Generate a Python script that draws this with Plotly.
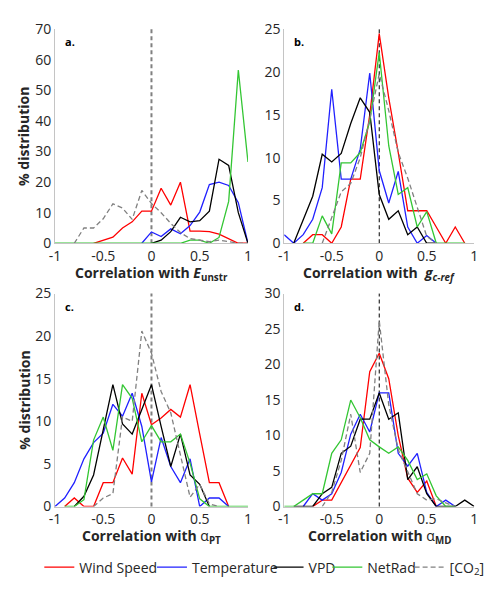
import plotly.graph_objects as go

# ---------------- data ----------------
x_bins = [-1.0, -0.9, -0.8, -0.7, -0.6, -0.5, -0.4, -0.3, -0.2, -0.1, 0.0,
          0.1, 0.2, 0.3, 0.4, 0.5, 0.6, 0.7, 0.8, 0.9, 1.0]

series_names = ["Wind Speed", "Temperature", "VPD", "NetRad", "[CO<sub>2</sub>]"]

# panel a: correlation with E_unstr
a_wind = [None, None, None, None, 0, 1, 2, 5, 7, 10.5, 10.5, 18, 12.5, 20, 4, 4, 3.8, 3, 1.5, 0, 0]
a_temp = [None, None, None, None, None, None, None, None, None, 0, 3.7, 2.2, 4.7, 3.1, 5.8, 10.2, 19.2, 20, 18.9, 13.3, 0]
a_vpd = [None, None, None, None, None, None, None, None, None, None, 0, 1, 3.8, 8.5, 7, 7.4, 10.5, 27.5, 25.5, 10, 0]
a_netrad = [0, 0, 0, 0, 0, 0, 0, 0, 0, 0, 0, 0, 0, 0, 1, 1, 0, 1.9, 13.7, 56.7, 26.6]
a_co2 = [None, None, 0, 5, 5, 8, 12.9, 11.5, 7.8, 17.3, 13, 10, 6.5, 3.5, 1.5, 1, 0.5, 1, 0.5, 0, 0]

# panel b: correlation with g_c-ref
b_wind = [None, None, 0, 1, 1, 0, 1.9, 7.5, 7.5, 15, 24.5, 17, 10.6, 3.8, 3.8, 3.8, 1.9, 0, 1.9, 0, None]
b_temp = [1, 0, 1, 2.8, 6.5, 18, 7.5, 7.5, 11, 19.9, 8.5, 4.7, 8.4, 1.9, 0, 0.9, 0, None, None, None, None]
b_vpd = [None, 0, 2.8, 5.5, 10.4, 9.5, 10.5, 14, 17, 15.3, 5.7, 2.8, 3.8, 1, 1.9, 0, 0, None, None, None, None]
b_netrad = [None, None, 0, 0, 3.2, 1.1, 9.4, 9.4, 10.6, 14.2, 22.3, 11.4, 5.7, 6.5, 1.9, 3.7, 0, 0, 0, 0, None]
b_co2 = [None, None, None, None, 0, 3, 6, 7, 10, 14.5, 19.8, 15.5, 10.6, 7.6, 4.2, 0.8, 0, None, None, None, None]

# panel c: correlation with alpha_PT
c_wind = [None, 0, 1, 0, 0, 2.8, 2.8, 5.7, 3.8, 13.3, 9.6, 10.4, 11.4, 10.5, 14.3, 8.5, 2.8, 2.8, 0, None, None]
c_temp = [0, 1, 2.8, 5.6, 7.5, 8.6, 12, 10.6, 13.3, 9.4, 2.9, 8.1, 4.7, 2.8, 5.6, 0, 1, 1, 0, None, None]
c_vpd = [None, None, 0, 1.2, 3.7, 8.9, 14.3, 9.7, 8.5, 11.4, 14.3, 9.4, 4.7, 8.5, 3.7, 2.6, 0, None, None, None, None]
c_netrad = [None, 0, 0, 0.8, 7.8, 10.5, 6.6, 14.3, 12.7, 7.6, 9.5, 7.6, 7.6, 8.5, 5.1, 0.9, 0, 0, 0, 0, 0]
c_co2 = [None, None, None, None, 0, 1, 1.5, 10.5, 10, 20.6, 18, 13.5, 11, 6, 1.1, 2.6, 0.3, 0, None, None, None]

# panel d: correlation with alpha_MD
d_wind = [None, None, None, 0, 0.9, 0.9, 3.3, 5.9, 8.3, 19, 21.6, 18, 10, 4, 2, 3.6, 0, None, None, None, None]
d_temp = [None, None, 0, 1.8, 0.9, 1.8, 4.8, 10.2, 13, 10.5, 16, 16, 7.5, 5.7, 7.5, 2, 0, 0.9, 0, None, None]
d_vpd = [None, 0, 0, 0, 1.8, 2.7, 7.5, 8.5, 12.3, 12.3, 16, 12.3, 13.2, 3.8, 5.6, 1.8, 0, 0, 0, 0.9, 0]
d_netrad = [0, 0, 0.9, 1.8, 1.8, 7.5, 9.4, 15, 12.5, 9.4, 8.4, 7.5, 8.4, 6.5, 3.8, 4.6, 1.5, 0, 0, None, None]
d_co2 = [None, None, None, None, 0, 2, 6.5, 13, 4.8, 7.5, 26.2, 14.3, 8, 4.8, 1.8, 0.9, 1.1, 0.5, 0, None, None]

x_tickvals = [-1, -0.5, 0, 0.5, 1]
x_ticktext = ["-1", "-0.5", "0", "0.5", "1"]
y_ranges = [[0, 70], [0, 25], [0, 25], [0, 30]]
y_dticks = [10, 5, 5, 5]
panel_labels = ["a.", "b.", "c.", "d."]
x_titles = [
    "<b>Correlation with <i>E</i><sub>unstr</sub></b>",
    "<b>Correlation with  <i>g</i><sub><i>c-ref</i></sub></b>",
    "<b>Correlation with </b>α<sub><b>PT</b></sub>",
    "<b>Correlation with </b>α<sub><b>MD</b></sub>",
]

# ---------------- styles ----------------
W, H = 491, 591
FONT = "Open Sans"
colors = ["#ff0000", "#2020ff", "#000000", "#33c633", "#808080"]
dashes = ["solid", "solid", "solid", "solid", "5px,3px"]
# plot areas in pixels: (left, right, top, bottom)
boxes = [(50, 247, 20, 241), (284, 478, 20, 241), (50, 247, 293, 513), (284, 478, 293, 513)]
vline_styles = [("#808080", 2, "4px,3px"), ("#000000", 1, "4px,3px"),
                ("#808080", 2, "4px,3px"), ("#000000", 1, "4px,3px")]

panels = [
    [a_wind, a_temp, a_vpd, a_netrad, a_co2],
    [b_wind, b_temp, b_vpd, b_netrad, b_co2],
    [c_wind, c_temp, c_vpd, c_netrad, c_co2],
    [d_wind, d_temp, d_vpd, d_netrad, d_co2],
]
legend_ids = ["legend", "legend2", "legend3", "legend4", "legend5"]
legend_x = [34, 149, 268, 328, 412]

fig = go.Figure()
for p, data in enumerate(panels):
    sfx = "" if p == 0 else str(p + 1)
    for s, vals in enumerate(data):
        fig.add_trace(go.Scatter(
            x=x_bins, y=vals, mode="lines", name=series_names[s],
            line=dict(color=colors[s], width=1.3, dash=dashes[s]),
            xaxis="x" + sfx, yaxis="y" + sfx,
            showlegend=(p == 0), legend=legend_ids[s],
            connectgaps=False, hoverinfo="skip",
        ))

layout = dict(
    width=W, height=H, margin=dict(l=0, r=0, t=0, b=0),
    paper_bgcolor="white", plot_bgcolor="white",
    font=dict(family=FONT, size=14, color="#262626"),
)
shapes = []
annotations = []
for p, (l, r, t, b) in enumerate(boxes):
    sfx = "" if p == 0 else str(p + 1)
    layout["xaxis" + sfx] = dict(
        domain=[l / W, r / W], anchor="y" + sfx, range=[-1, 1],
        tickvals=x_tickvals, ticktext=x_ticktext, showgrid=False, zeroline=False,
        showline=True, linecolor="#c4c4c4", linewidth=1, ticks="", ticklen=0,
        tickfont=dict(size=14, color="#262626"),
    )
    layout["yaxis" + sfx] = dict(
        domain=[1 - b / H, 1 - t / H], anchor="x" + sfx, range=y_ranges[p],
        dtick=y_dticks[p], tick0=0, showgrid=False, zeroline=False,
        showline=True, linecolor="#c4c4c4", linewidth=1, ticks="", ticklen=0,
        tickfont=dict(size=14, color="#262626"),
    )
    vc, vw, vd = vline_styles[p]
    shapes.append(dict(type="line", xref="x" + sfx, yref="y" + sfx + " domain",
                       x0=0, x1=0, y0=0, y1=1, line=dict(color=vc, width=vw, dash=vd),
                       layer="below"))
    annotations.append(dict(text="<b>" + panel_labels[p] + "</b>", xref="paper", yref="paper",
                            x=(l + 8) / W, y=1 - (t + 13) / H, xanchor="left", yanchor="middle",
                            showarrow=False, font=dict(size=11, color="#000000")))
    annotations.append(dict(text=x_titles[p], xref="paper", yref="paper",
                            x=(l + r) / 2 / W, y=1 - (b + 31) / H, xanchor="center", yanchor="middle",
                            showarrow=False, font=dict(size=14, color="#262626")))
    if p in (0, 2):
        annotations.append(dict(text="<b>% distribution</b>", xref="paper", yref="paper",
                                x=18 / W, y=1 - (t + b) / 2 / H, xanchor="center", yanchor="middle",
                                textangle=-90, showarrow=False, font=dict(size=14, color="#262626")))

for i, lid in enumerate(legend_ids):
    layout[lid] = dict(x=legend_x[i] / W, y=1 - 576 / H, xanchor="left", yanchor="middle",
                       orientation="h", bgcolor="rgba(0,0,0,0)", itemwidth=30,
                       font=dict(size=14, color="#262626"))

layout["shapes"] = shapes
layout["annotations"] = annotations
fig.update_layout(**layout)
fig.write_html("out.html", config={"displayModeBar": False},
               post_script="document.body.style.margin='0';")
